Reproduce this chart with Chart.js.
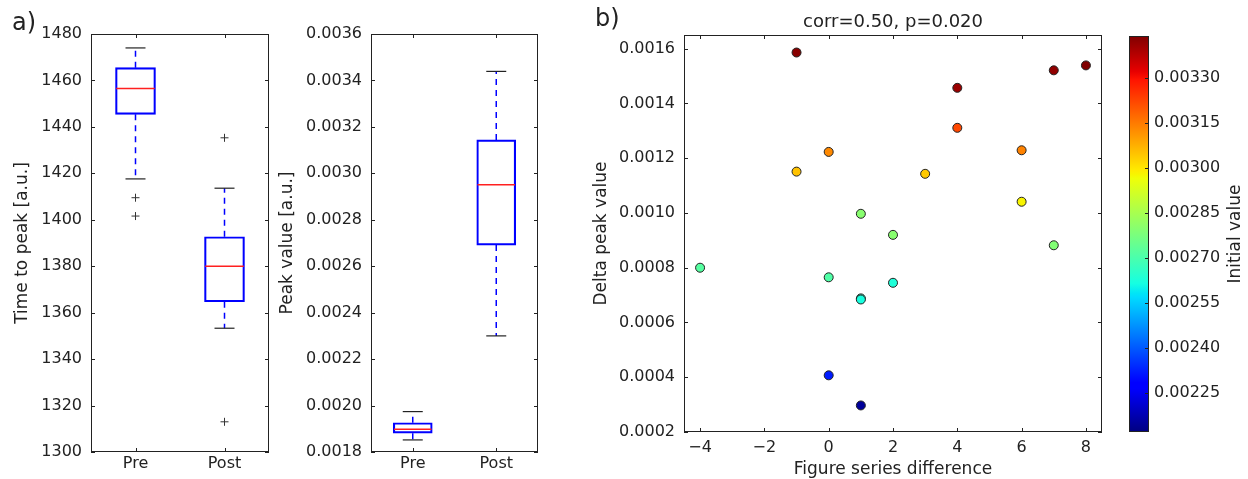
<!DOCTYPE html>
<html>
<head>
<meta charset="utf-8">
<script src="https://cdn.jsdelivr.net/npm/chart.js@4.4.0/dist/chart.umd.min.js"></script>
<style>
  html, body { margin: 0; padding: 0; background: #fff; }
  #wrap { position: relative; width: 1248px; height: 479px; overflow: hidden; font-family: "DejaVu Sans", sans-serif; color: #222; }
  canvas { position: absolute; top: 0; }
  .panel-label { position: absolute; font-size: 24px; line-height: 24px; }
</style>
</head>
<body>
<div id="wrap">
  <canvas id="time_chart" width="291" height="479" style="left:0"></canvas>
  <canvas id="peak_chart" width="285" height="479" style="left:275px"></canvas>
  <canvas id="scatter_chart" width="540" height="479" style="left:580px"></canvas>
  <canvas id="cbar_chart" width="128" height="479" style="left:1120px"></canvas>
  <div class="panel-label" style="left:12px;top:10px">a)</div>
  <div class="panel-label" style="left:595px;top:6px">b)</div>
</div>
<script>
// DATA
const groups = ["Pre", "Post"];

// time to peak boxes
const time_q1 = [1445.4, 1364.7];
const time_median = [1456.5, 1380.0];
const time_q3 = [1465.5, 1392.7];
const time_low = [1417.6, 1353.3];
const time_high = [1474.0, 1413.6];
const time_fliers = [[1409.5, 1401.6], [1435.3, 1313.0]];
const time_ticks = [1300, 1320, 1340, 1360, 1380, 1400, 1420, 1440, 1460, 1480];

// peak value boxes
const peak_q1 = [0.001881, 0.002691];
const peak_median = [0.001898, 0.002951];
const peak_q3 = [0.001926, 0.003144];
const peak_low = [0.001852, 0.002300];
const peak_high = [0.001974, 0.003439];
const peak_fliers = [[], []];
const peak_ticks = [0.0018, 0.0020, 0.0022, 0.0024, 0.0026, 0.0028, 0.0030, 0.0032, 0.0034, 0.0036];

// scatter
const series_diff = [-1, 0, -1, 1, 2, -4, 0, 1, 1, 2, 0, 1, 4, 4, 3, 6, 6, 7, 8, 7];
const delta_peak = [0.001586, 0.001223, 0.001151, 0.000997, 0.000920, 0.000800, 0.000765, 0.000688, 0.000684, 0.000745,
                    0.000407, 0.000297, 0.001457, 0.001311, 0.001143, 0.001229, 0.001041, 0.001521, 0.001539, 0.000882];
const initial_value = [0.00343, 0.00313, 0.00305, 0.00280, 0.00280, 0.00272, 0.00271, 0.00266, 0.00262, 0.00263,
                       0.00232, 0.00215, 0.00341, 0.00322, 0.00304, 0.00314, 0.00298, 0.00342, 0.00344, 0.00279];
const scatter_x_ticks = [-4, -2, 0, 2, 4, 6, 8];
const scatter_y_ticks = [0.0002, 0.0004, 0.0006, 0.0008, 0.0010, 0.0012, 0.0014, 0.0016];
const cbar_ticks = [0.00225, 0.00240, 0.00255, 0.00270, 0.00285, 0.00300, 0.00315, 0.00330];
const cbar_min = 0.00212, cbar_max = 0.00344;

Chart.defaults.font.family = "DejaVu Sans";
Chart.defaults.font.size = 16;
Chart.defaults.color = "#222";
const LABEL_FONT = { size: 17 };

// JET COLORMAP (matplotlib segments)
const JET = {
  r: [[0, 0], [0.35, 0], [0.66, 1], [0.89, 1], [1, 0.5]],
  g: [[0, 0], [0.125, 0], [0.375, 1], [0.64, 1], [0.91, 0], [1, 0]],
  b: [[0, 0.5], [0.11, 1], [0.34, 1], [0.65, 0], [1, 0]],
};
function interp(seg, t) {
  for (let i = 1; i < seg.length; i++) {
    if (t <= seg[i][0]) {
      const [t0, v0] = seg[i - 1], [t1, v1] = seg[i];
      return v0 + (v1 - v0) * (t - t0) / (t1 - t0);
    }
  }
  return seg[seg.length - 1][1];
}
function jet(t) {
  t = Math.min(1, Math.max(0, t));
  const c = k => Math.round(255 * interp(JET[k], t));
  return `rgb(${c("r")},${c("g")},${c("b")})`;
}

// FRAME + INSIDE TICKS (matplotlib classic look)
const framePlugin = {
  id: "frame",
  afterDraw(chart, args, opts) {
    const { ctx, chartArea: a } = chart;
    const xs = chart.scales.x, ys = chart.scales.y;
    const len = 4;
    ctx.save();
    ctx.strokeStyle = "#222";
    ctx.lineWidth = 1;
    ctx.beginPath();
    if (opts.xTicks !== false && xs) {
      xs.ticks.forEach(t => {
        const p = Math.round(xs.getPixelForValue(t.value)) + 0.5;
        ctx.moveTo(p, a.bottom); ctx.lineTo(p, a.bottom - len);
        ctx.moveTo(p, a.top); ctx.lineTo(p, a.top + len);
      });
    }
    if (ys) {
      ys.ticks.forEach(t => {
        const p = Math.round(ys.getPixelForValue(t.value)) + 0.5;
        if (opts.left !== false) { ctx.moveTo(a.left, p); ctx.lineTo(a.left + len, p); }
        ctx.moveTo(a.right, p); ctx.lineTo(a.right - len, p);
      });
    }
    ctx.stroke();
    ctx.strokeRect(a.left + 0.5, a.top + 0.5, a.right - a.left - 1, a.bottom - a.top - 1);
    ctx.restore();
  }
};

function fixedTicks(list) {
  return scale => { scale.ticks = list.map(v => ({ value: v })); };
}
function fixHeight(h) {
  return scale => { scale.height = h; scale.paddingLeft = 0; scale.paddingRight = 0; };
}
const NO_GRID = { display: false, drawTicks: false };

function boxChart(canvasId, q1, med, q3, low, high, fliers, ticks, fmt, title, opts) {
  const whiskers = [];
  groups.forEach((g, i) => {
    whiskers.push({ x: i + 1, y: q3[i] }, { x: i + 1, y: high[i] }, { x: i + 1, y: null });
    whiskers.push({ x: i + 1, y: q1[i] }, { x: i + 1, y: low[i] }, { x: i + 1, y: null });
  });
  const caps = [];
  groups.forEach((g, i) => caps.push({ x: i + 1, y: low[i] }, { x: i + 1, y: high[i] }));
  const outs = [];
  fliers.forEach((list, i) => list.forEach(v => outs.push({ x: i + 1, y: v })));

  return new Chart(document.getElementById(canvasId), {
    type: "bar",
    data: {
      datasets: [
        {
          type: "scatter", order: 0,
          data: groups.map((g, i) => ({ x: i + 1, y: med[i] })),
          pointStyle: "line", pointRadius: opts.box / 2 - 0.75, pointBorderColor: "#ff2020", pointBorderWidth: 1.5,
        },
        {
          type: "scatter", order: 1,
          data: outs,
          pointStyle: "cross", pointRadius: 4, pointBorderColor: "#333", pointBorderWidth: 1,
        },
        {
          type: "scatter", order: 2,
          data: caps,
          pointStyle: "line", pointRadius: 10, pointBorderColor: "#222", pointBorderWidth: 1.2,
        },
        {
          type: "line", order: 3,
          data: whiskers,
          borderColor: "#0000ff", borderWidth: 1.5, borderDash: [6, 5],
          pointRadius: 0, spanGaps: false, fill: false,
        },
        {
          type: "bar", order: 4,
          data: groups.map((g, i) => ({ x: i + 1, y: [q1[i], q3[i]] })),
          backgroundColor: "rgba(0,0,0,0)", borderColor: "#0000ff", borderWidth: 1.5,
          borderSkipped: false, barThickness: opts.box, grouped: false,
        },
      ],
    },
    options: {
      responsive: false, animation: false, events: [],
      layout: { padding: { top: 34, right: 22, left: 0, bottom: 0 } },
      plugins: { legend: { display: false }, tooltip: { enabled: false }, frame: {} },
      scales: {
        x: {
          type: "linear", min: 0.5, max: 2.5, offset: false,
          afterBuildTicks: fixedTicks([1, 2]),
          afterFit: fixHeight(27),
          grid: NO_GRID, border: { display: false },
          ticks: { padding: 2, callback: v => groups[v - 1] },
        },
        y: {
          type: "linear", min: ticks[0], max: ticks[ticks.length - 1],
          afterBuildTicks: fixedTicks(ticks),
          afterFit: s => { s.width = opts.axisWidth; },
          grid: NO_GRID, border: { display: false },
          ticks: { padding: 9, callback: fmt },
          title: { display: true, text: title, font: LABEL_FONT, padding: { top: opts.titlePad, bottom: 0 } },
        },
      },
    },
    plugins: [framePlugin],
  });
}

boxChart("time_chart", time_q1, time_median, time_q3, time_low, time_high, time_fliers,
  time_ticks, v => String(v), "Time to peak [a.u.]", { box: 40, axisWidth: 91, titlePad: 12 });

boxChart("peak_chart", peak_q1, peak_median, peak_q3, peak_low, peak_high, peak_fliers,
  peak_ticks, v => v.toFixed(4), "Peak value [a.u.]", { box: 39, axisWidth: 96, titlePad: 2 });

// SCATTER
new Chart(document.getElementById("scatter_chart"), {
  type: "scatter",
  data: {
    datasets: [{
      data: series_diff.map((x, i) => ({ x: x, y: delta_peak[i] })),
      pointBackgroundColor: initial_value.map(v => jet((v - cbar_min) / (cbar_max - cbar_min))),
      pointBorderColor: "#222", pointBorderWidth: 1, pointRadius: 4.5,
    }],
  },
  options: {
    responsive: false, animation: false, events: [],
    layout: { padding: { top: 0, right: 18, left: 0, bottom: 0 } },
    plugins: {
      legend: { display: false }, tooltip: { enabled: false }, frame: {},
      title: {
        display: true, text: "corr=0.50, p=0.020", fullSize: false, color: "#222",
        font: { size: 18, weight: "normal" }, padding: { top: 12, bottom: 1.4 },
      },
    },
    scales: {
      x: {
        type: "linear", min: -4.5, max: 8.5,
        afterBuildTicks: fixedTicks(scatter_x_ticks),
        afterFit: fixHeight(47),
        grid: NO_GRID, border: { display: false },
        ticks: { padding: 6, callback: v => String(v).replace("-", "\u2212") },
        title: { display: true, text: "Figure series difference", font: LABEL_FONT, padding: { top: 0, bottom: -1 } },
      },
      y: {
        type: "linear", min: 0.0002, max: 0.00165,
        afterBuildTicks: fixedTicks(scatter_y_ticks),
        afterFit: s => { s.width = 104; },
        grid: NO_GRID, border: { display: false },
        ticks: { padding: 9, callback: v => v.toFixed(4) },
        title: { display: true, text: "Delta peak value", font: LABEL_FONT, padding: { top: 11, bottom: 0 } },
      },
    },
  },
  plugins: [framePlugin],
});

// COLORBAR
const gradientPlugin = {
  id: "cbarGradient",
  beforeDatasetsDraw(chart) {
    const { ctx, chartArea: a } = chart;
    const grad = ctx.createLinearGradient(0, a.bottom, 0, a.top);
    [0, 0.11, 0.125, 0.34, 0.35, 0.375, 0.64, 0.65, 0.66, 0.89, 0.91, 1].forEach(t => grad.addColorStop(t, jet(t)));
    ctx.save();
    ctx.fillStyle = grad;
    ctx.fillRect(a.left, a.top, a.right - a.left, a.bottom - a.top);
    ctx.restore();
  },
  afterDraw(chart) {
    const { ctx, chartArea: a } = chart;
    ctx.save();
    ctx.translate(116, (a.top + a.bottom) / 2);
    ctx.rotate(-Math.PI / 2);
    ctx.font = "17px 'DejaVu Sans'";
    ctx.fillStyle = "#222";
    ctx.textAlign = "center";
    ctx.textBaseline = "middle";
    ctx.fillText("Initial value", 0, 0);
    ctx.restore();
  }
};

new Chart(document.getElementById("cbar_chart"), {
  type: "scatter",
  data: { datasets: [] },
  options: {
    responsive: false, animation: false, events: [],
    layout: { padding: { top: 36, right: 0, left: 9, bottom: 47 } },
    plugins: { legend: { display: false }, tooltip: { enabled: false }, frame: { left: false, xTicks: false } },
    scales: {
      x: { display: false, min: 0, max: 1 },
      y: {
        type: "linear", position: "right", min: cbar_min, max: cbar_max,
        afterBuildTicks: fixedTicks(cbar_ticks),
        afterFit: s => { s.width = 99; },
        grid: NO_GRID, border: { display: false },
        ticks: { padding: 5, callback: v => v.toFixed(5) },
      },
    },
  },
  plugins: [gradientPlugin, framePlugin],
});
</script>
</body>
</html>
